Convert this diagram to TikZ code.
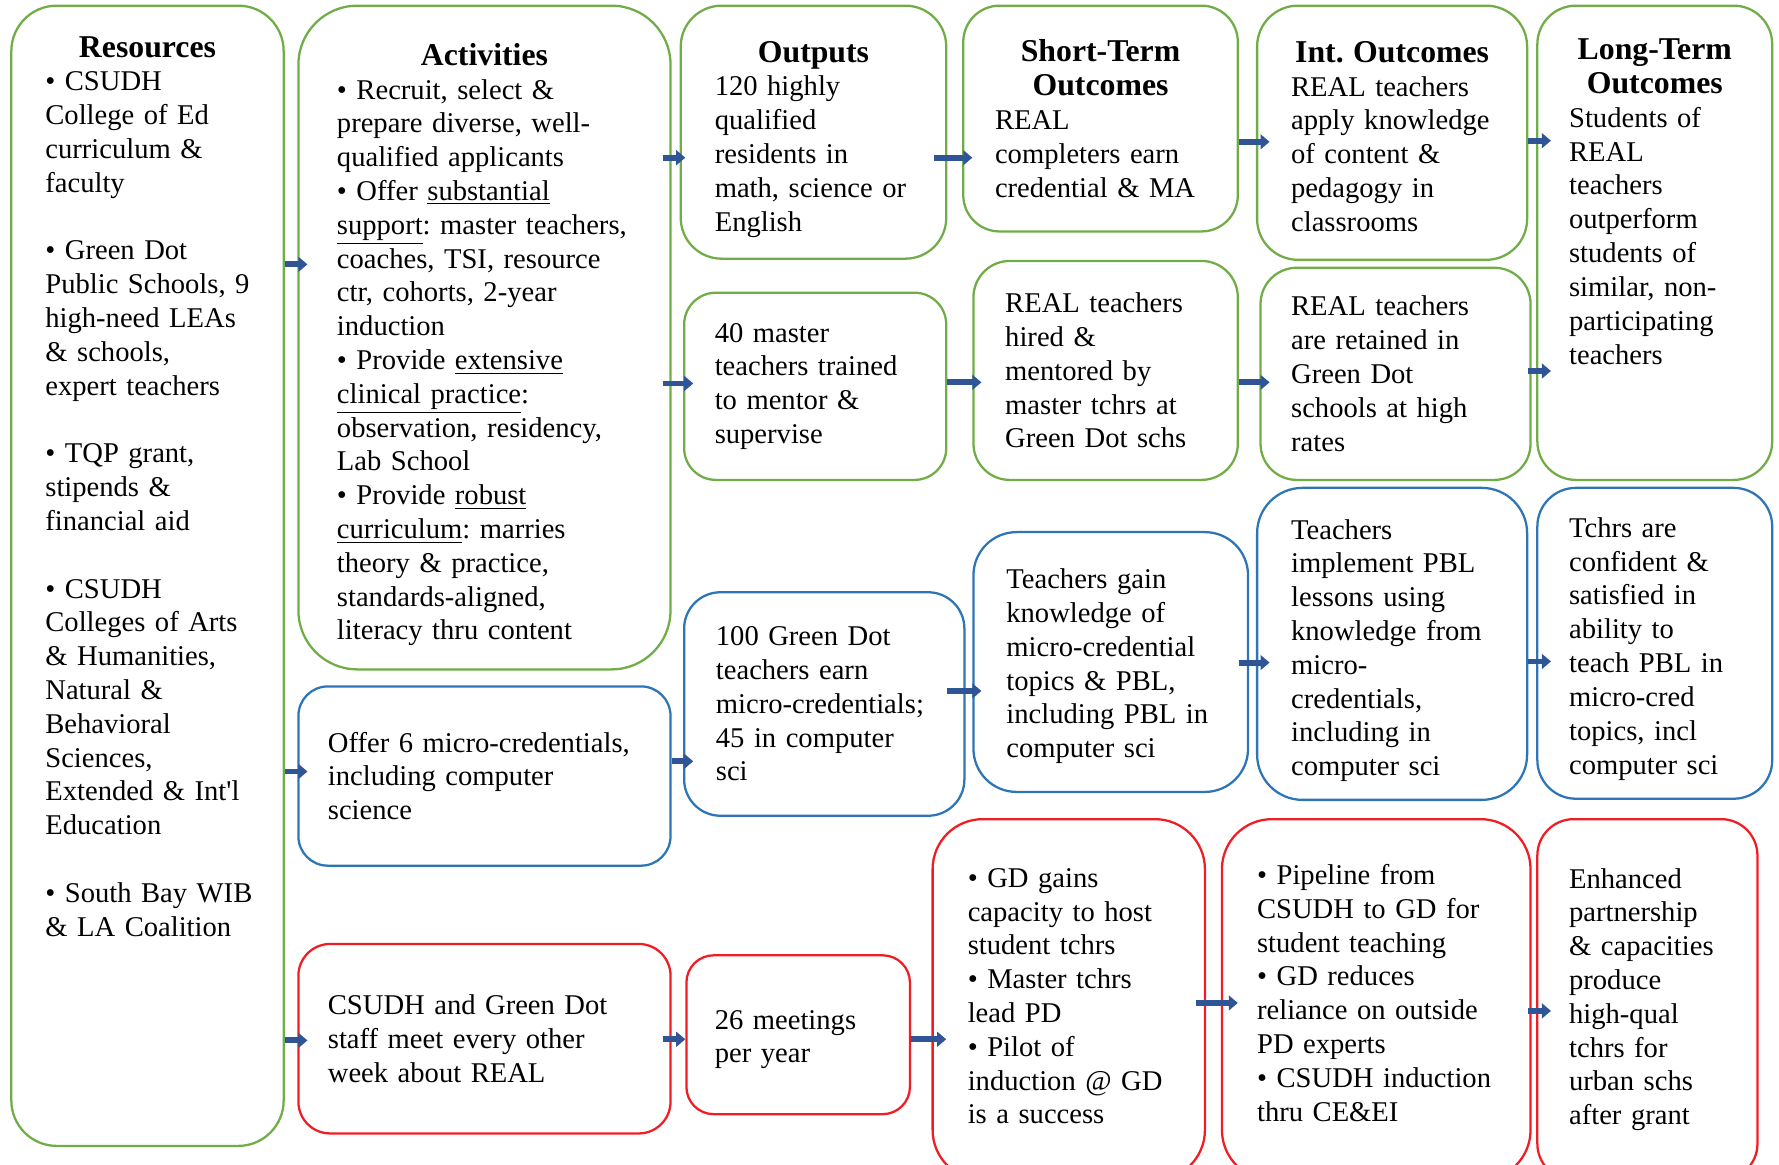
\documentclass[tikz,border=0pt]{standalone}
\usepackage{fontspec}
\setmainfont{Liberation Serif}
\newfontfamily\plainserif[Ligatures=ResetAll]{Liberation Serif}
\usepackage{xcolor}
\usetikzlibrary{arrows.meta,calc}

\definecolor{lmgreen}{RGB}{112,173,71}
\definecolor{lmblue}{RGB}{46,117,182}
\definecolor{lmred}{RGB}{240,30,36}
\definecolor{flowblue}{RGB}{47,85,151}

% centred bold heading line, optional strut height
\newcommand{\hdr}[2][0pt]{\hfill\rule{0pt}{#1}{\fontsize{14}{16}\selectfont\bfseries #2}\hfill\mbox{}}

\begin{document}
\begin{tikzpicture}[
    x=0.5pt, y=-0.5pt,
    box/.style={rectangle, draw, line width=1pt, rounded corners=16pt, inner xsep=14.5pt, inner ysep=0pt,
        font=\fontsize{12.6}{14.9}\selectfont\frenchspacing,
        execute at begin node={\rightskip=0pt minus 40pt\relax}},
    gbox/.style={box, draw=lmgreen},
    bbox/.style={box, draw=lmblue},
    rbox/.style={box, draw=lmred},
    arrow/.style={-{Triangle[length=4pt,width=6.5pt]}, line width=2.6pt, draw=flowblue}
]
    \useasboundingbox (0,0) rectangle (1568,1026);
    \clip (0,0) rectangle (1568,1026);

    % Resources
    \node[gbox, rounded corners=20pt, inner xsep=15pt, text width=90pt, minimum height=502.5pt] (res) at (130,507.5)
        {\hdr{Resources}\\
         • CSUDH\\ College of Ed\\ curriculum \&\\ faculty\\[14.9pt]
         • Green Dot\\ Public Schools, 9\\ high-need LEAs\\ \& schools,\\ expert teachers\\[14.9pt]
         • TQP grant,\\ stipends \&\\ financial aid\\[14.9pt]
         • CSUDH\\ Colleges of Arts\\ \& Humanities,\\ Natural \&\\ Behavioral\\ Sciences,\\ Extended \& Int{\plainserif '}l\\ Education\\[14.9pt]
         • South Bay WIB\\ \& LA Coalition\\[64pt]\mbox{}};

    % Activities
    \node[gbox, rounded corners=26pt, inner xsep=17pt, text width=130pt, minimum height=292.5pt] (act) at (427,297.5)
        {\hdr[16pt]{Activities}\\
         • Recruit, select \&\\ prepare diverse, well-\\ qualified applicants\\
         • Offer \underline{substantial}\\ \underline{support}: master teachers,\\ coaches, TSI, resource\\ ctr, cohorts, 2-year\\ induction\\
         • Provide \underline{extensive}\\ \underline{clinical practice}:\\ observation, residency,\\ Lab School\\
         • Provide \underline{robust}\\ \underline{curriculum}: marries\\ theory \& practice,\\ standards-aligned,\\ literacy thru content};
    \node[bbox, rounded corners=13pt, inner xsep=13pt, text width=138pt, minimum height=79pt] (actmc) at (427,684)
        {Offer 6 micro-credentials,\\ including computer\\ science};
    \node[rbox, rounded corners=14pt, inner xsep=13pt, text width=138pt, minimum height=83.5pt] (actrd) at (427,915.5)
        {CSUDH and Green Dot\\ staff meet every other\\ week about REAL};

    % Outputs
    \node[gbox, rounded corners=18pt, inner xsep=15pt, text width=87pt, minimum height=111.5pt] (out) at (717,116.5)
        {\hdr[15.5pt]{Outputs}\\ 120 highly\\ qualified\\ residents in\\ math, science or\\ English};
    \node[gbox, rounded corners=14pt, inner xsep=13.5pt, text width=88.5pt, minimum height=82.5pt] (mas) at (718.5,340.5)
        {40 master\\ teachers trained\\ to mentor \&\\ supervise};
    \node[bbox, rounded corners=16pt, inner xsep=14pt, text width=95.5pt, minimum height=98.5pt] (gdo) at (726.5,620.5)
        {100 Green Dot\\ teachers earn\\ micro-credentials;\\ 45 in computer\\ sci};
    \node[rbox, rounded corners=12pt, inner xsep=12.5pt, text width=73.5pt, minimum height=70pt] (mtg) at (703.5,912)
        {\rule{0pt}{12.6pt}26 meetings\\ per year};

    % Short-term outcomes
    \node[gbox, rounded corners=16pt, inner xsep=14pt, text width=93pt, minimum height=99.5pt] (sto) at (970,104.5)
        {\hdr{Short-Term}\\ \hdr{Outcomes}\\ REAL\\ completers earn\\ credential \& MA};
    \node[gbox, rounded corners=16pt, inner xsep=14pt, text width=88.5pt, minimum height=96.5pt] (hir) at (974.5,326.5)
        {REAL teachers\\ hired \&\\ mentored by\\ master tchrs at\\ Green Dot schs};
    \node[bbox, rounded corners=19pt, text width=92pt, minimum height=114.5pt] (gain) at (979,583.5)
        {\rule{0pt}{12.6pt}Teachers gain\\ knowledge of\\ micro-credential\\ topics \& PBL,\\ including PBL in\\ computer sci};
    \node[rbox, rounded corners=22pt, inner xsep=15.5pt, text width=89pt, minimum height=159pt] (gdg) at (942,881)
        {• GD gains\\ capacity to host\\ student tchrs\\ • Master tchrs\\ lead PD\\ • Pilot of\\ induction @ GD\\ is a success\rule[-3pt]{0pt}{3pt}};

    % Intermediate outcomes
    \node[gbox, rounded corners=18pt, inner xsep=15pt, text width=89pt, minimum height=112pt] (int) at (1227,117)
        {\hdr[12.5pt]{Int. Outcomes}\\ REAL teachers\\ apply knowledge\\ of content \&\\ pedagogy in\\ classrooms};
    \node[gbox, rounded corners=16pt, inner xsep=13.5pt, text width=92pt, minimum height=93.5pt] (ret) at (1230,329.5)
        {REAL teachers\\ are retained in\\ Green Dot\\ schools at high\\ rates};
    \node[bbox, rounded corners=20pt, inner xsep=15pt, text width=89pt, minimum height=137.5pt] (imp) at (1227,567.5)
        {\rule{0pt}{14.6pt}Teachers\\ implement PBL\\ lessons using\\ knowledge from\\ micro-\\ credentials,\\ including in\\ computer sci};
    \node[rbox, rounded corners=22pt, inner xsep=15.5pt, text width=105pt, minimum height=159pt] (pip) at (1213,881)
        {• Pipeline from\\ CSUDH to GD for\\ student teaching\\ • GD reduces\\ reliance on outside\\ PD experts\\ • CSUDH induction\\ thru CE\&EI\rule[-6pt]{0pt}{6pt}};

    % Long-term outcomes
    \node[gbox, rounded corners=17pt, inner xsep=14pt, text width=75.5pt, minimum height=209pt] (lto) at (1458.5,214)
        {\hdr{Long-Term}\\ \hdr{Outcomes}\\ Students of\\ REAL\\ teachers\\ outperform\\ students of\\ similar, non-\\ participating\\ teachers\\[21.5pt]\mbox{}};
    \node[bbox, rounded corners=17pt, inner xsep=14pt, text width=75.5pt, minimum height=137pt] (conf) at (1458.5,567)
        {\rule{0pt}{13.6pt}Tchrs are\\ confident \&\\ satisfied in\\ ability to\\ teach PBL in\\ micro-cred\\ topics, incl\\ computer sci};
    \node[rbox, rounded corners=16pt, inner xsep=14pt, text width=69pt, minimum height=159pt] (enh) at (1452,881)
        {Enhanced\\ partnership\\ \& capacities\\ produce\\ high-qual\\ tchrs for\\ urban schs\\ after grant};

    % Arrows
    \draw[arrow, shorten >=-4.5pt] (res.east |- 0,233) -- (act.west |- 0,233);
    \draw[arrow, shorten >=-4.5pt] (res.east |- 0,680) -- (actmc.west |- 0,680);
    \draw[arrow, shorten >=-4.5pt] (res.east |- 0,917) -- (actrd.west |- 0,917);
    \draw[arrow, shorten <=-4pt, shorten >=-2.5pt] (act.east |- 0,139) -- (out.west |- 0,139);
    \draw[arrow, shorten <=-4pt, shorten >=-4.5pt] (act.east |- 0,338) -- (mas.west |- 0,338);
    \draw[arrow, shorten >=-4.5pt] (actmc.east |- 0,671) -- (gdo.west |- 0,671);
    \draw[arrow, shorten <=-4pt] (actrd.east |- 0,916) -- (mtg.west |- 0,916);
    \draw[arrow, shorten <=-6pt, shorten >=-4.5pt] (out.east |- 0,139) -- (sto.west |- 0,139);
    \draw[arrow, shorten >=-4pt] (mas.east |- 0,337) -- (hir.west |- 0,337);
    \draw[arrow, shorten <=-8pt, shorten >=-4pt] (gdo.east |- 0,609) -- (gain.west |- 0,609);
    \draw[arrow, shorten >=-6.5pt] (mtg.east |- 0,916) -- (gdg.west |- 0,916);
    \draw[arrow, shorten >=-6pt] (sto.east |- 0,125) -- (int.west |- 0,125);
    \draw[arrow, shorten >=-4.5pt] (hir.east |- 0,337) -- (ret.west |- 0,337);
    \draw[arrow, shorten <=-4.5pt, shorten >=-6pt] (gain.east |- 0,584) -- (imp.west |- 0,584);
    \draw[arrow, shorten <=-4.5pt, shorten >=-7.5pt] (gdg.east |- 0,884) -- (pip.west |- 0,884);
    \draw[arrow, shorten >=-6.5pt] (int.east |- 0,124) -- (lto.west |- 0,124);
    \draw[arrow, shorten <=-1.5pt, shorten >=-6.5pt] (ret.east |- 0,327) -- (lto.west |- 0,327);
    \draw[arrow, shorten >=-6.5pt] (imp.east |- 0,583) -- (conf.west |- 0,583);
    \draw[arrow, shorten <=-1.5pt, shorten >=-6.5pt] (pip.east |- 0,891) -- (enh.west |- 0,891);
\end{tikzpicture}
\end{document}
